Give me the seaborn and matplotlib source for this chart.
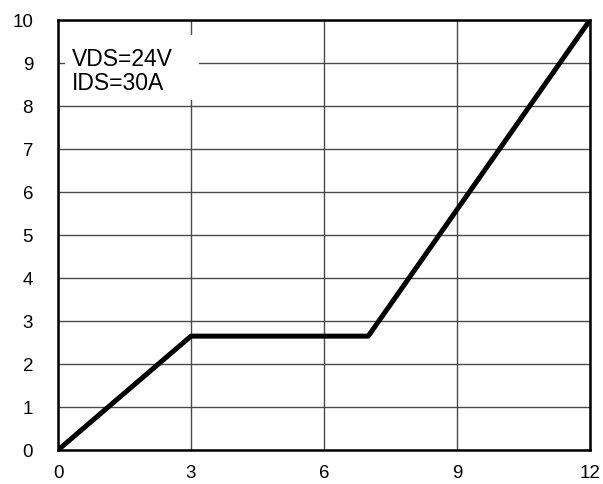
import matplotlib
matplotlib.use("Agg")
import matplotlib.pyplot as plt
from matplotlib.patches import Rectangle
import seaborn as sns
import pandas as pd

# Gate charge curve (Qg in nC vs VGS in V)
charge_nc = [0, 3, 7, 12]
gate_voltage = [0, 2.65, 2.65, 10]
x_ticks = [0, 3, 6, 9, 12]
y_ticks = list(range(0, 11))
conditions = ["VDS=24V", "IDS=30A"]

sns.set_theme(style="white")
plt.rcParams["font.family"] = ["Liberation Sans", "DejaVu Sans"]

fig = plt.figure(figsize=(6.03, 4.84), dpi=100)
ax = fig.add_axes([0.0962, 0.0702, 0.882, 0.888])

df = pd.DataFrame({"Qg": charge_nc, "VGS": gate_voltage})
sns.lineplot(data=df, x="Qg", y="VGS", ax=ax, color="black", linewidth=3.6,
             sort=False, estimator=None, zorder=5)

ax.set_xlim(0, 12)
ax.set_ylim(0, 10)
ax.set_xticks(x_ticks)
ax.set_yticks(y_ticks)
ax.set_xticklabels([str(v) for v in x_ticks], fontsize=13.5, color="black")
ax.set_yticklabels([str(v) for v in y_ticks], fontsize=13.5, color="black")
ax.tick_params(axis="y", length=0, pad=18)
ax.tick_params(axis="x", length=0, pad=11)
ax.set_xlabel("")
ax.set_ylabel("")

ax.grid(True, color="#4a4a4a", linewidth=1.0)
ax.set_axisbelow(True)
for s in ax.spines.values():
    s.set_color("black")
    s.set_linewidth(1.8)
    s.set_visible(True)

# white panel behind the test conditions, hiding the grid there
ax.add_patch(Rectangle((0.013, 0.814), 0.252, 0.151, transform=ax.transAxes,
                       facecolor="white", edgecolor="none", zorder=3))
ax.text(0.026, 0.935, "\n".join(conditions), transform=ax.transAxes,
        fontsize=16.5, color="black", va="top", ha="left", linespacing=1.05,
        zorder=4)

fig.savefig("out.png", dpi=100)
